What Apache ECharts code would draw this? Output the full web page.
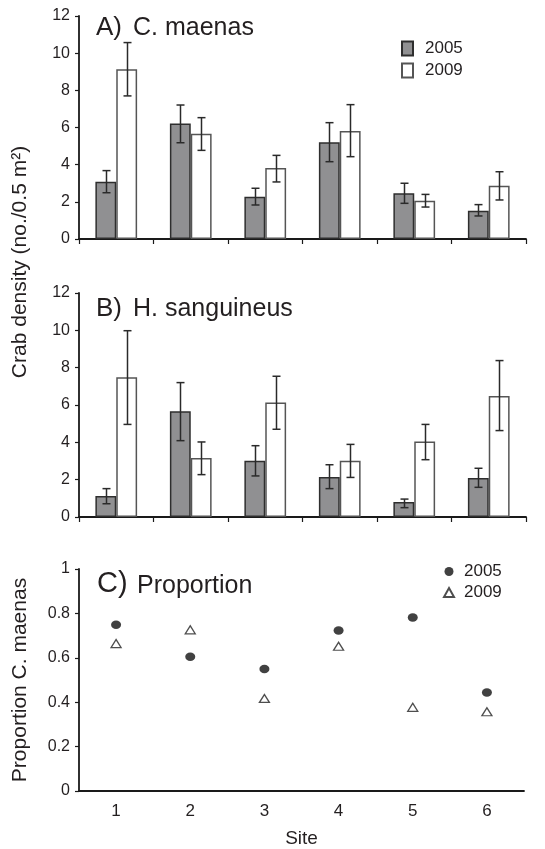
<!DOCTYPE html>
<html>
<head>
<meta charset="utf-8">
<script src="https://cdn.jsdelivr.net/npm/echarts@6/dist/echarts.min.js"></script>
<style>
html,body{margin:0;padding:0;background:#fff;}
#chart{width:545px;height:849px;}
</style>
</head>
<body>
<div id="chart"></div>
<script>
const sites = ['1', '2', '3', '4', '5', '6'];

// Panel A: C. maenas density (mean, lower and upper error bar ends)
const maenas2005 = [3.08, 6.22, 2.28, 5.20, 2.46, 1.52];
const maenas2005Low = [2.49, 5.18, 1.83, 4.16, 1.92, 1.24];
const maenas2005High = [3.68, 7.21, 2.73, 6.26, 3.00, 1.85];
const maenas2009 = [9.13, 5.67, 3.82, 5.81, 2.06, 2.87];
const maenas2009Low = [7.70, 4.77, 3.07, 4.43, 1.72, 2.10];
const maenas2009High = [10.57, 6.53, 4.50, 7.23, 2.40, 3.62];

// Panel B: H. sanguineus density
const sang2005 = [1.12, 5.66, 3.02, 2.14, 0.80, 2.09];
const sang2005Low = [0.71, 4.09, 2.20, 1.52, 0.50, 1.59];
const sang2005High = [1.52, 7.20, 3.82, 2.80, 0.96, 2.61];
const sang2009 = [7.48, 3.16, 6.14, 3.02, 4.04, 6.48];
const sang2009Low = [4.96, 2.27, 4.70, 2.12, 3.07, 4.63];
const sang2009High = [9.98, 4.02, 7.54, 3.89, 4.96, 8.38];

// Panel C: proportion C. maenas
const prop2005 = [0.749, 0.605, 0.550, 0.723, 0.782, 0.444];
const prop2009 = [0.664, 0.726, 0.417, 0.652, 0.377, 0.357];

const TXT = '#231f20';
const FONT = '"Liberation Sans", Arial, Helvetica, sans-serif';
const GRAY = '#909092';

const chart = echarts.init(document.getElementById('chart'), null, {renderer: 'canvas'});

function errSeries(name, xi, yi, low, high, dir) {
  return {
    type: 'custom',
    name: name,
    xAxisIndex: xi, yAxisIndex: yi,
    z: 5,
    silent: true,
    encode: {x: 0, y: [1, 2]},
    data: sites.map((s, i) => [i, low[i], high[i]]),
    renderItem: function (params, api) {
      const x = api.value(0);
      const lo = api.coord([x, api.value(1)]);
      const hi = api.coord([x, api.value(2)]);
      const band = api.size([1, 0])[0];
      const cx = Math.round(lo[0] + dir * band * 0.14) + 0.5;
      const cap = 4;
      const st = {stroke: '#2a2a2a', lineWidth: 1.5};
      return {
        type: 'group',
        children: [
          {type: 'line', shape: {x1: cx, y1: lo[1], x2: cx, y2: hi[1]}, style: st},
          {type: 'line', shape: {x1: cx - cap, y1: hi[1], x2: cx + cap, y2: hi[1]}, style: st},
          {type: 'line', shape: {x1: cx - cap, y1: lo[1], x2: cx + cap, y2: lo[1]}, style: st}
        ]
      };
    }
  };
}

function barSeries(name, xi, yi, data, fill, border) {
  return {
    type: 'bar',
    name: name,
    xAxisIndex: xi, yAxisIndex: yi,
    data: data,
    barWidth: '28%',
    barGap: '0%',
    itemStyle: {color: fill, borderColor: border, borderWidth: 1.5},
    emphasis: {disabled: true}
  };
}

const axisLineStyle = {color: '#1a1a1a', width: 1.8};

function catAxis(gi, showLabel, showTick) {
  return {
    type: 'category', gridIndex: gi, data: sites,
    boundaryGap: true,
    axisLine: {lineStyle: axisLineStyle},
    axisTick: {show: showTick, length: 5, lineStyle: {color: '#1a1a1a', width: 1.2}},
    axisLabel: {show: showLabel, color: TXT, fontFamily: FONT, fontSize: 17, margin: 12},
    splitLine: {show: false}
  };
}

function valAxis(gi, max, interval) {
  return {
    type: 'value', gridIndex: gi, min: 0, max: max, interval: interval,
    axisLine: {show: true, lineStyle: axisLineStyle},
    axisTick: {show: true, length: 4, lineStyle: {color: '#1a1a1a', width: 1.2}},
    axisLabel: {color: TXT, fontFamily: FONT, fontSize: 16, margin: 9},
    splitLine: {show: false}
  };
}

function gtext(text, x, y, size, opts) {
  return Object.assign({
    type: 'text', x: x, y: y,
    style: {text: text, fill: TXT, font: size + 'px ' + FONT, align: 'left', verticalAlign: 'middle'}
  }, opts || {});
}

function vtext(text, x, y, size) {
  return {
    type: 'text', x: x, y: y, rotation: Math.PI / 2,
    style: {text: text, fill: TXT, font: size + 'px ' + FONT, align: 'center', verticalAlign: 'middle'}
  };
}

const xAxes = [catAxis(0, false, true), catAxis(1, false, true), catAxis(2, true, false)];
xAxes[2].name = 'Site';
xAxes[2].nameLocation = 'middle';
xAxes[2].nameGap = 38;
xAxes[2].nameTextStyle = {color: TXT, fontFamily: FONT, fontSize: 19};

const option = {
  animation: false,
  backgroundColor: '#fff',
  textStyle: {fontFamily: FONT},
  grid: [
    {left: 79, top: 16, width: 447, height: 223},
    {left: 79, top: 293, width: 447, height: 224},
    {left: 79, top: 569, width: 445, height: 223}
  ],
  xAxis: xAxes,
  yAxis: [valAxis(0, 12, 2), valAxis(1, 12, 2), valAxis(2, 1, 0.2)],
  legend: [
    {
      orient: 'vertical', left: 401, top: 40, padding: 0,
      itemWidth: 11, itemHeight: 14, itemGap: 5,
      icon: 'rect',
      data: ['2005', '2009'],
      selectedMode: false,
      textStyle: {color: TXT, fontFamily: FONT, fontSize: 17, padding: [0, 0, 0, 7]}
    },
    {
      orient: 'vertical', left: 443, top: 563, padding: 0,
      itemWidth: 10, itemHeight: 9, itemGap: 4,
      data: [{name: 'p2005', icon: 'circle'}, {name: 'p2009', icon: 'triangle'}],
      selectedMode: false,
      formatter: function (n) { return n.slice(1); },
      textStyle: {color: TXT, fontFamily: FONT, fontSize: 17, padding: [0, 0, 0, 5]}
    }
  ],
  graphic: [
    gtext('A)', 96, 27.5, 26),
    gtext('C. maenas', 133, 28.5, 25),
    gtext('B)', 96, 309, 26),
    gtext('H. sanguineus', 133, 309.5, 25),
    gtext('C)', 97, 583.5, 29),
    gtext('Proportion', 137, 586, 25),
    vtext('Crab density (no./0.5 m²)', 20, 262, 21),
    vtext('Proportion C. maenas', 20, 680, 21)
  ],
  series: [
    barSeries('2005', 0, 0, maenas2005, GRAY, '#2e2e2e'),
    barSeries('2009', 0, 0, maenas2009, '#ffffff', '#555555'),
    errSeries('e1', 0, 0, maenas2005Low, maenas2005High, -1),
    errSeries('e2', 0, 0, maenas2009Low, maenas2009High, 1),
    barSeries('2005', 1, 1, sang2005, GRAY, '#2e2e2e'),
    barSeries('2009', 1, 1, sang2009, '#ffffff', '#555555'),
    errSeries('e3', 1, 1, sang2005Low, sang2005High, -1),
    errSeries('e4', 1, 1, sang2009Low, sang2009High, 1),
    {
      type: 'scatter', name: 'p2005', xAxisIndex: 2, yAxisIndex: 2,
      data: prop2005, symbol: 'circle', symbolSize: [10, 8.5],
      itemStyle: {color: '#111111'}, emphasis: {disabled: true}
    },
    {
      type: 'scatter', name: 'p2009', xAxisIndex: 2, yAxisIndex: 2,
      data: prop2009, symbol: 'triangle', symbolSize: [10, 8],
      itemStyle: {color: '#ffffff', borderColor: '#222222', borderWidth: 1.3}, emphasis: {disabled: true}
    }
  ]
};

chart.setOption(option);
</script>
</body>
</html>
